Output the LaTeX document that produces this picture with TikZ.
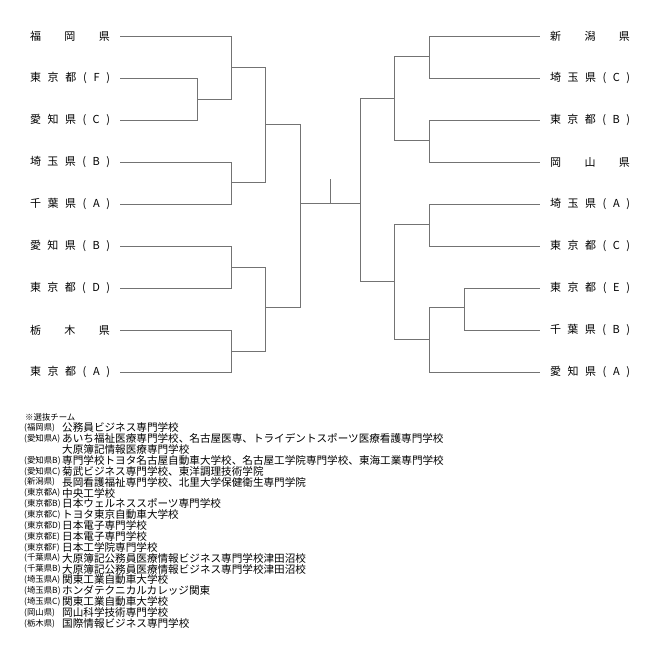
\documentclass[tikz,border=0pt]{standalone}
\usepackage{fontspec}
\setmainfont{Noto Sans CJK JP}
\begin{document}
\begin{tikzpicture}[x=1pt,y=-1pt,
  team/.style={inner sep=0pt, font=\fontsize{11}{11}\selectfont},
  brk/.style={draw=black!55, line width=0.8pt},
  note/.style={anchor=west, inner sep=0pt, font=\fontsize{10.6}{10.6}\selectfont},
  notekey/.style={anchor=west, inner sep=0pt, font=\fontsize{8.4}{8.4}\selectfont}]
  \useasboundingbox (0,0) rectangle (662,669);
  % Squadre a sinistra
  \node[team] (l1) at (70,36) {\makebox[80pt][s]{福\hfill 岡\hfill 県}};
  \node[team] (l2) at (70,78) {\makebox[80pt][s]{東\hfill 京\hfill 都\hfill (\hfill F\hfill )}};
  \node[team] (l3) at (70,120) {\makebox[80pt][s]{愛\hfill 知\hfill 県\hfill (\hfill C\hfill )}};
  \node[team] (l4) at (70,162) {\makebox[80pt][s]{埼\hfill 玉\hfill 県\hfill (\hfill B\hfill )}};
  \node[team] (l5) at (70,204) {\makebox[80pt][s]{千\hfill 葉\hfill 県\hfill (\hfill A\hfill )}};
  \node[team] (l6) at (70,246) {\makebox[80pt][s]{愛\hfill 知\hfill 県\hfill (\hfill B\hfill )}};
  \node[team] (l7) at (70,288) {\makebox[80pt][s]{東\hfill 京\hfill 都\hfill (\hfill D\hfill )}};
  \node[team] (l8) at (70,330) {\makebox[80pt][s]{栃\hfill 木\hfill 県}};
  \node[team] (l9) at (70,372) {\makebox[80pt][s]{東\hfill 京\hfill 都\hfill (\hfill A\hfill )}};
  % Squadre a destra
  \node[team] (r1) at (590,36) {\makebox[80pt][s]{新\hfill 潟\hfill 県}};
  \node[team] (r2) at (590,78) {\makebox[80pt][s]{埼\hfill 玉\hfill 県\hfill (\hfill C\hfill )}};
  \node[team] (r3) at (590,120) {\makebox[80pt][s]{東\hfill 京\hfill 都\hfill (\hfill B\hfill )}};
  \node[team] (r4) at (590,162) {\makebox[80pt][s]{岡\hfill 山\hfill 県}};
  \node[team] (r5) at (590,204) {\makebox[80pt][s]{埼\hfill 玉\hfill 県\hfill (\hfill A\hfill )}};
  \node[team] (r6) at (590,246) {\makebox[80pt][s]{東\hfill 京\hfill 都\hfill (\hfill C\hfill )}};
  \node[team] (r7) at (590,288) {\makebox[80pt][s]{東\hfill 京\hfill 都\hfill (\hfill E\hfill )}};
  \node[team] (r8) at (590,330) {\makebox[80pt][s]{千\hfill 葉\hfill 県\hfill (\hfill B\hfill )}};
  \node[team] (r9) at (590,372) {\makebox[80pt][s]{愛\hfill 知\hfill 県\hfill (\hfill A\hfill )}};
  % Tabellone sinistro
  \draw[brk] (l1.east)++(10,0) -- (231,36) -- (231,99) -- (197,99);
  \draw[brk] (l2.east)++(10,0) -- (197,78) -- (197,120) -- ([xshift=10pt]l3.east);
  \draw[brk] (231,67) -- (265,67) -- (265,182) -- (231,182);
  \draw[brk] (l4.east)++(10,0) -- (231,162) -- (231,204) -- ([xshift=10pt]l5.east);
  \draw[brk] (l6.east)++(10,0) -- (231,246) -- (231,288) -- ([xshift=10pt]l7.east);
  \draw[brk] (l8.east)++(10,0) -- (231,330) -- (231,372) -- ([xshift=10pt]l9.east);
  \draw[brk] (231,267) -- (265,267) -- (265,351) -- (231,351);
  \draw[brk] (265,124) -- (300,124) -- (300,307) -- (265,307);
  % Centro
  \coordinate (final) at (330,203);
  \draw[brk] (300,203) -- (360,203);
  \draw[brk] (final) -- ++(0,-24);
  % Tabellone destro
  \draw[brk] (394,98) -- (360,98) -- (360,281) -- (394,281);
  \draw[brk] (429,56) -- (394,56) -- (394,140) -- (429,140);
  \draw[brk] (r1.west)++(-10,0) -- (429,36) -- (429,78) -- ([xshift=-10pt]r2.west);
  \draw[brk] (r3.west)++(-10,0) -- (429,120) -- (429,162) -- ([xshift=-10pt]r4.west);
  \draw[brk] (429,224) -- (394,224) -- (394,339) -- (429,339);
  \draw[brk] (r5.west)++(-10,0) -- (429,204) -- (429,246) -- ([xshift=-10pt]r6.west);
  \draw[brk] (464,307) -- (429,307) -- (429,372) -- ([xshift=-10pt]r9.west);
  \draw[brk] (r7.west)++(-10,0) -- (464,288) -- (464,330) -- ([xshift=-10pt]r8.west);
  % Note
  \node[notekey] (nt) at (25,417) {※選抜チーム};
  \foreach \k/\t [count=\i] in {
    {(福岡県)}/{公務員ビジネス専門学校},
    {(愛知県A)}/{あいち福祉医療専門学校、名古屋医専、トライデントスポーツ医療看護専門学校},
    {}/{大原簿記情報医療専門学校},
    {(愛知県B)}/{専門学校トヨタ名古屋自動車大学校、名古屋工学院専門学校、東海工業専門学校},
    {(愛知県C)}/{菊武ビジネス専門学校、東洋調理技術学院},
    {(新潟県)}/{長岡看護福祉専門学校、北里大学保健衛生専門学院},
    {(東京都A)}/{中央工学校},
    {(東京都B)}/{日本ウェルネススポーツ専門学校},
    {(東京都C)}/{トヨタ東京自動車大学校},
    {(東京都D)}/{日本電子専門学校},
    {(東京都E)}/{日本電子専門学校},
    {(東京都F)}/{日本工学院専門学校},
    {(千葉県A)}/{大原簿記公務員医療情報ビジネス専門学校津田沼校},
    {(千葉県B)}/{大原簿記公務員医療情報ビジネス専門学校津田沼校},
    {(埼玉県A)}/{関東工業自動車大学校},
    {(埼玉県B)}/{ホンダテクニカルカレッジ関東},
    {(埼玉県C)}/{関東工業自動車大学校},
    {(岡山県)}/{岡山科学技術専門学校},
    {(栃木県)}/{国際情報ビジネス専門学校}} {
    \node[notekey] (nk\i) at (24,417+10.86*\i) {\k};
    \node[note] (nv\i) at (62,417+10.86*\i) {\t};
  }
\end{tikzpicture}
\end{document}
